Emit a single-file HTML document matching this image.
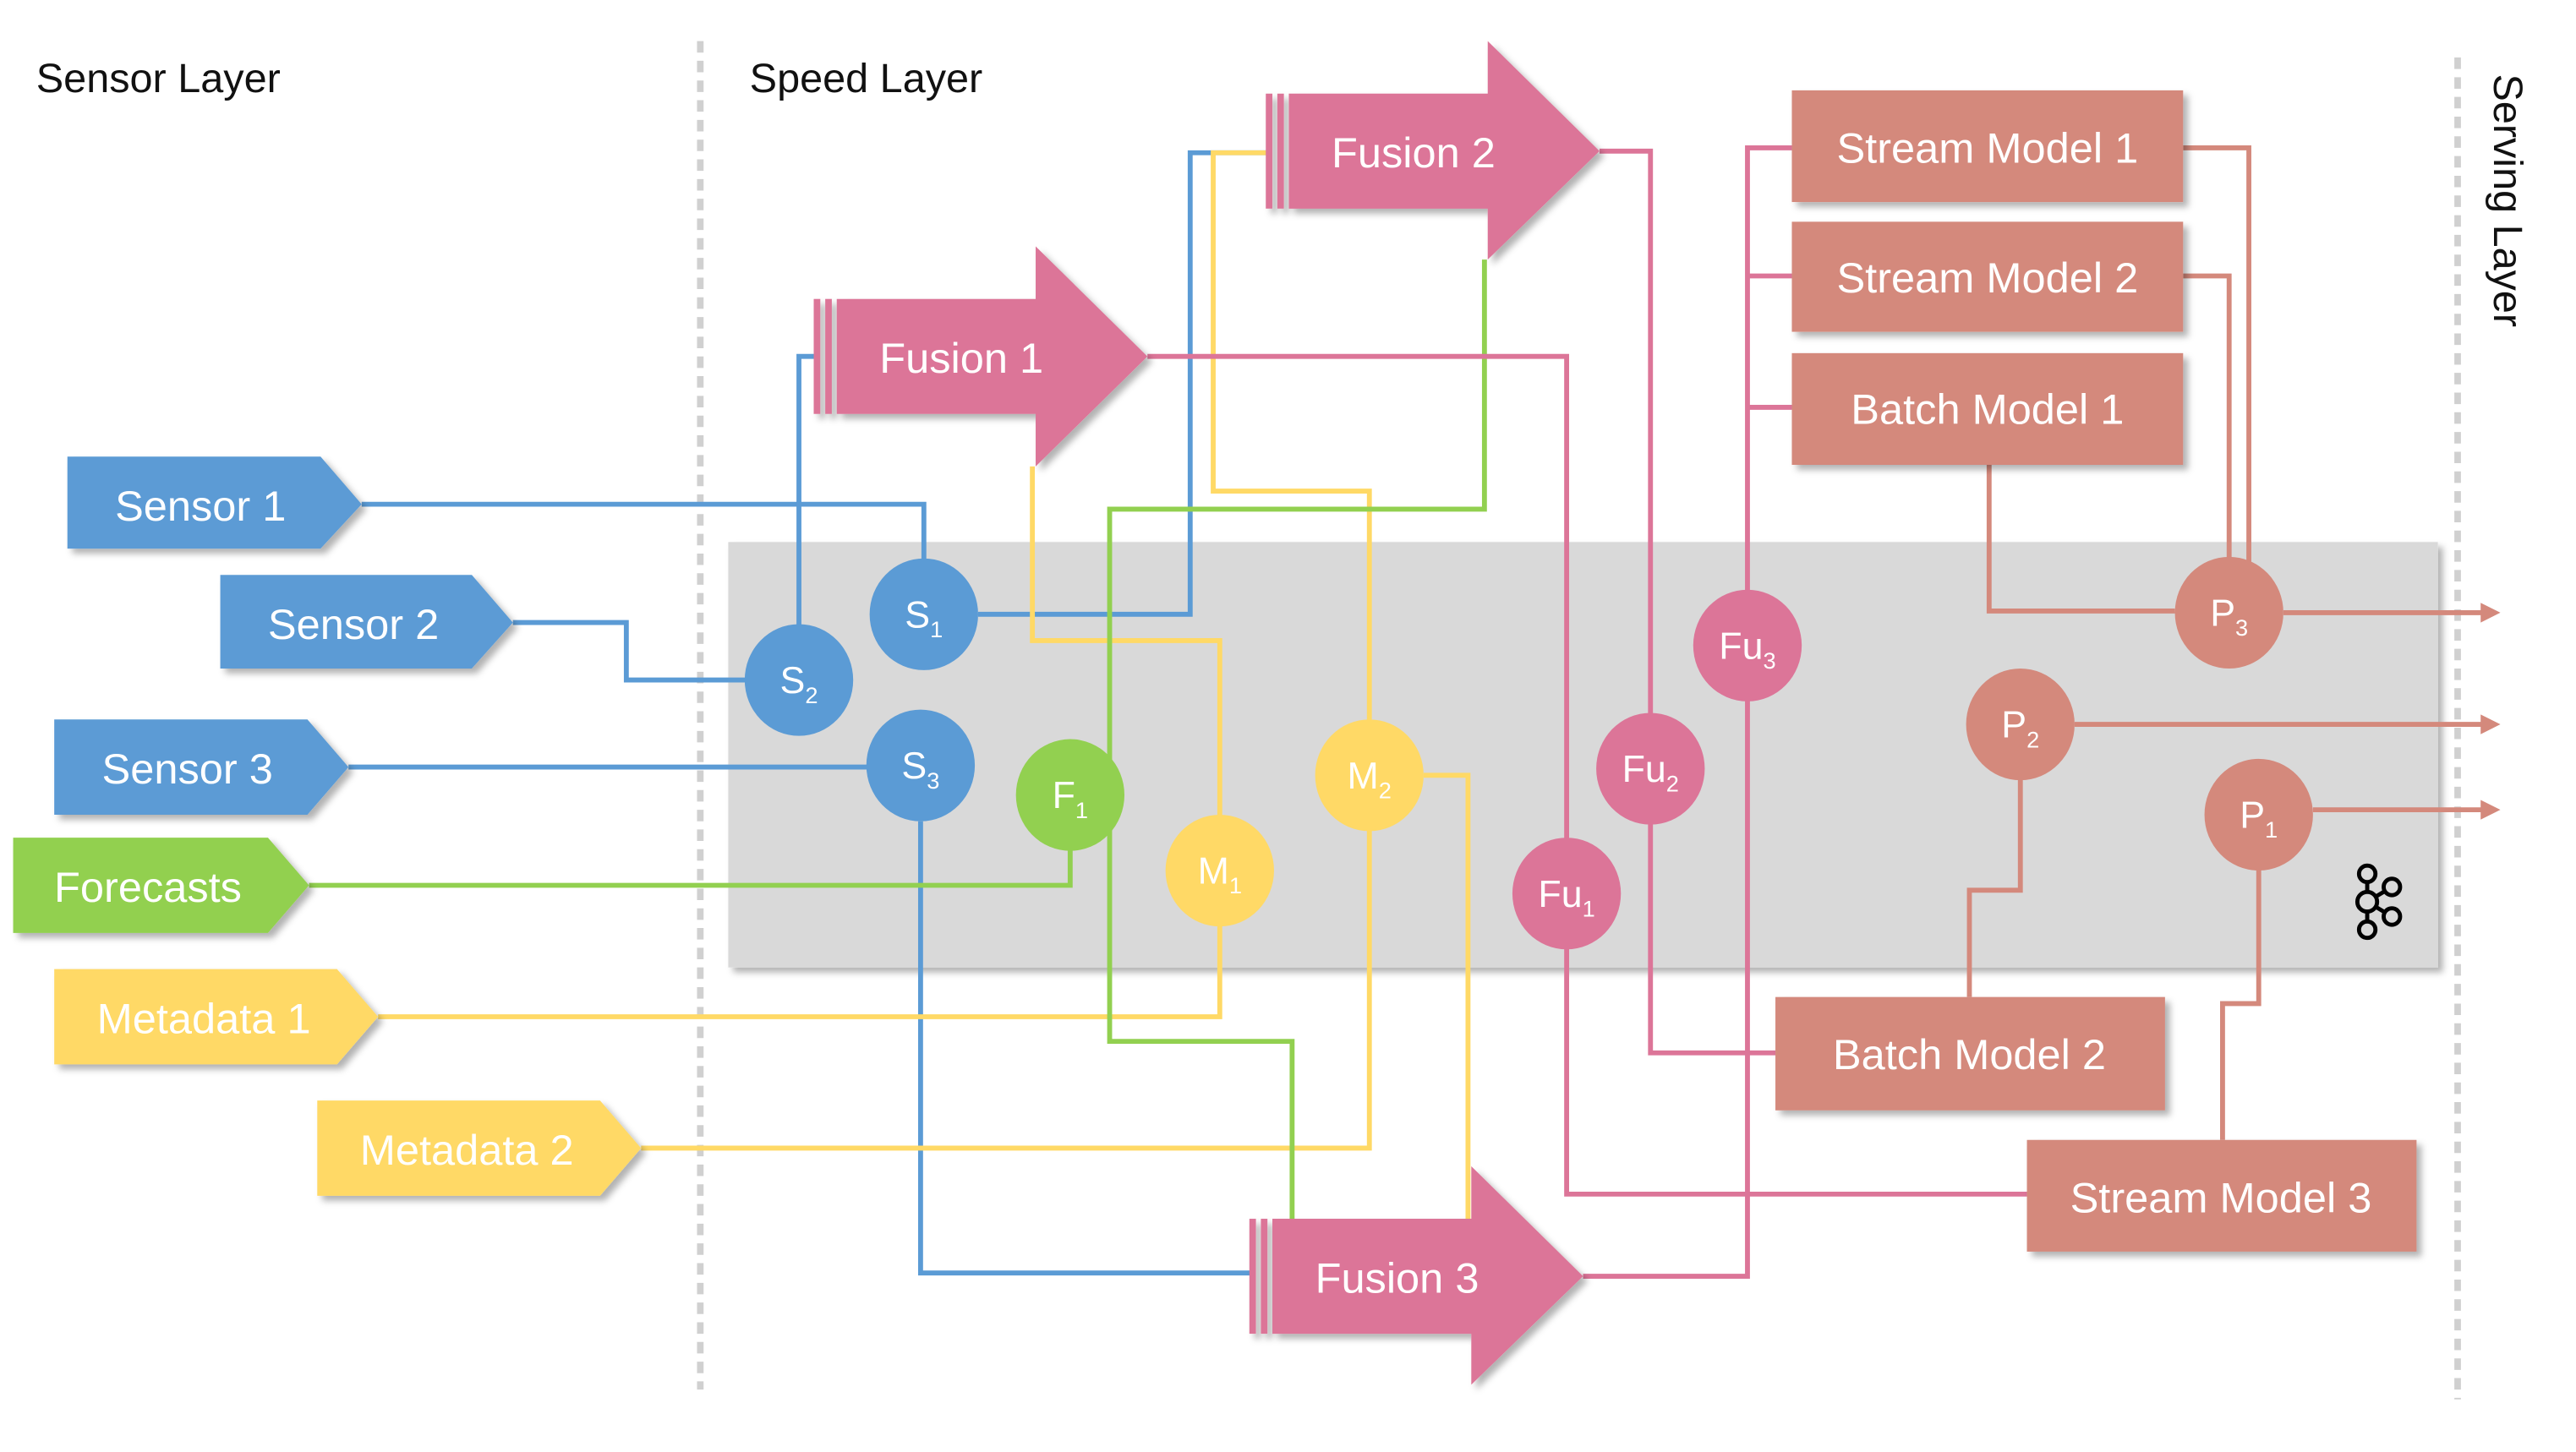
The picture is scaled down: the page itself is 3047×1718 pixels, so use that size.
<!DOCTYPE html>
<html><head><meta charset="utf-8"><style>
html,body{margin:0;padding:0;background:#fff}
svg{display:block}
text{font-family:"Liberation Sans",sans-serif}
</style></head><body>
<svg width="3047" height="1718" viewBox="0 0 1567 884" preserveAspectRatio="none" xmlns="http://www.w3.org/2000/svg">
<defs>
<filter id="sh" x="-10%" y="-10%" width="130%" height="130%"><feDropShadow dx="3" dy="3" stdDeviation="2" flood-color="#000" flood-opacity="0.3"/></filter>
</defs>
<line x1="426" y1="25" x2="426" y2="846" stroke="#d0d0d0" stroke-width="4" stroke-dasharray="7,5"/>
<line x1="1495" y1="35" x2="1495" y2="852" stroke="#d0d0d0" stroke-width="4" stroke-dasharray="7,5"/>
<text x="22" y="56" font-size="25" fill="#111">Sensor Layer</text>
<text x="456" y="56" font-size="25" fill="#111">Speed Layer</text>
<text transform="translate(1517,45) rotate(90)" font-size="25" fill="#111">Serving Layer</text>
<rect x="443" y="330" width="1040" height="259" fill="#d9d9d9" filter="url(#sh)"/>
<g fill="none" stroke-width="3">
<polyline stroke="#5b9bd5" points="220,307 562,307 562,341"/>
<polyline stroke="#5b9bd5" points="312,379 381,379 381,414 455,414"/>
<polyline stroke="#5b9bd5" points="486,381 486,217 497,217"/>
<polyline stroke="#5b9bd5" points="595,374 724,374 724,93 772,93"/>
<polyline stroke="#5b9bd5" points="212,467 528,467"/>
<polyline stroke="#5b9bd5" points="560,500 560,775 762,775"/>
<polyline stroke="#ffd966" points="230,619 742,619 742,563"/>
<polyline stroke="#ffd966" points="742,497 742,390 628,390 628,284"/>
<polyline stroke="#ffd966" points="390,699 833,699 833,505"/>
<polyline stroke="#ffd966" points="833,439 833,299 738,299 738,93 772,93"/>
<polyline stroke="#ffd966" points="866,472 893,472 893,742"/>
<polyline stroke="#92d050" points="188,539 651,539 651,517"/>
<polyline stroke="#92d050" points="675,470 675,310 903,310 903,158"/>
<polyline stroke="#92d050" points="675,500 675,634 786,634 786,742"/>
<polyline stroke="#dc7598" points="698,217 953,217 953,511"/>
<polyline stroke="#dc7598" points="953,577 953,727 1233,727"/>
<polyline stroke="#dc7598" points="973,92 1004,92 1004,435"/>
<polyline stroke="#dc7598" points="1004,501 1004,641 1080,641"/>
<polyline stroke="#dc7598" points="963,777 1063,777 1063,426"/>
<polyline stroke="#dc7598" points="1063,360 1063,90 1090,90"/>
<polyline stroke="#dc7598" points="1063,168 1090,168"/>
<polyline stroke="#dc7598" points="1063,248 1090,248"/>
<g stroke="#d4897c">
<polyline points="1328,90 1368,90 1368,345"/>
<polyline points="1328,168 1356,168 1356,340"/>
<polyline points="1210,283 1210,372 1323,372"/>
<polyline points="1389,373 1512,373"/>
<polyline points="1262,441 1512,441"/>
<polyline points="1407,493 1512,493"/>
<polyline points="1229,474 1229,542 1198,542 1198,607"/>
<polyline points="1374,529 1374,611 1352,611 1352,694"/>
</g>
</g>
<g fill="#d4897c">
<polygon points="1509,367 1521,373 1509,379"/>
<polygon points="1509,435 1521,441 1509,447"/>
<polygon points="1509,487 1521,493 1509,499"/>
</g>
<g filter="url(#sh)">
<polygon fill="#5b9bd5" points="41,278 195,278 220,307 195,334 41,334"/>
<polygon fill="#5b9bd5" points="134,350 287,350 312,379 287,407 134,407"/>
<polygon fill="#5b9bd5" points="33,438 187,438 212,467 187,496 33,496"/>
<polygon fill="#92d050" points="8,510 163,510 188,539 163,568 8,568"/>
<polygon fill="#ffd966" points="33,590 205,590 230,619 205,648 33,648"/>
<polygon fill="#ffd966" points="193,670 365,670 390,699 365,728 193,728"/>
</g>
<g fill="#fff" font-size="26" text-anchor="middle">
<text x="122" y="317">Sensor 1</text>
<text x="215" y="389">Sensor 2</text>
<text x="114" y="477">Sensor 3</text>
<text x="90" y="549">Forecasts</text>
<text x="124" y="629">Metadata 1</text>
<text x="284" y="709">Metadata 2</text>
</g>
<g filter="url(#sh)" fill="#dc7598">
<rect x="495" y="182" width="4" height="70"/><rect x="502" y="182" width="4" height="70"/>
<polygon points="509,182 630,182 630,150 698,217 630,284 630,252 509,252"/>
<rect x="770" y="57" width="4" height="70"/><rect x="777" y="57" width="4" height="70"/>
<polygon points="784,57 905,57 905,25 973,92 905,158 905,127 784,127"/>
<rect x="760" y="742" width="4" height="70"/><rect x="767" y="742" width="4" height="70"/>
<polygon points="774,742 895,742 895,710 963,777 895,843 895,812 774,812"/>
</g>
<g fill="#fff" font-size="26">
<text x="535" y="227">Fusion 1</text>
<text x="810" y="102">Fusion 2</text>
<text x="800" y="787">Fusion 3</text>
</g>
<g filter="url(#sh)" fill="#d4897c">
<rect x="1090" y="55" width="238" height="68"/>
<rect x="1090" y="135" width="238" height="67"/>
<rect x="1090" y="215" width="238" height="68"/>
<rect x="1080" y="607" width="237" height="69"/>
<rect x="1233" y="694" width="237" height="68"/>
</g>
<g fill="#fff" font-size="26" text-anchor="middle">
<text x="1209" y="99">Stream Model 1</text>
<text x="1209" y="178">Stream Model 2</text>
<text x="1209" y="258">Batch Model 1</text>
<text x="1198" y="651">Batch Model 2</text>
<text x="1351" y="738">Stream Model 3</text>
</g>
<g>
<ellipse cx="562" cy="374" rx="33" ry="34" fill="#5b9bd5"/>
<ellipse cx="486" cy="414" rx="33" ry="34" fill="#5b9bd5"/>
<ellipse cx="560" cy="466" rx="33" ry="34" fill="#5b9bd5"/>
<ellipse cx="651" cy="484" rx="33" ry="34" fill="#92d050"/>
<ellipse cx="742" cy="530" rx="33" ry="34" fill="#ffd966"/>
<ellipse cx="833" cy="472" rx="33" ry="34" fill="#ffd966"/>
<ellipse cx="953" cy="544" rx="33" ry="34" fill="#dc7598"/>
<ellipse cx="1004" cy="468" rx="33" ry="34" fill="#dc7598"/>
<ellipse cx="1063" cy="393" rx="33" ry="34" fill="#dc7598"/>
<ellipse cx="1356" cy="373" rx="33" ry="34" fill="#d4897c"/>
<ellipse cx="1229" cy="441" rx="33" ry="34" fill="#d4897c"/>
<ellipse cx="1374" cy="496" rx="33" ry="34" fill="#d4897c"/>
</g>
<g fill="#fff" font-size="23" text-anchor="middle">
<text x="562" y="382">S<tspan font-size="14" dy="6">1</tspan></text>
<text x="486" y="422">S<tspan font-size="14" dy="6">2</tspan></text>
<text x="560" y="474">S<tspan font-size="14" dy="6">3</tspan></text>
<text x="651" y="492">F<tspan font-size="14" dy="6">1</tspan></text>
<text x="742" y="538">M<tspan font-size="14" dy="6">1</tspan></text>
<text x="833" y="480">M<tspan font-size="14" dy="6">2</tspan></text>
<text x="953" y="552">Fu<tspan font-size="14" dy="6">1</tspan></text>
<text x="1004" y="476">Fu<tspan font-size="14" dy="6">2</tspan></text>
<text x="1063" y="401">Fu<tspan font-size="14" dy="6">3</tspan></text>
<text x="1356" y="381">P<tspan font-size="14" dy="6">3</tspan></text>
<text x="1229" y="449">P<tspan font-size="14" dy="6">2</tspan></text>
<text x="1374" y="504">P<tspan font-size="14" dy="6">1</tspan></text>
</g>
<g fill="none" stroke="#000" stroke-width="2.5">
<line x1="1440" y1="532" x2="1440" y2="566"/>
<line x1="1440" y1="549" x2="1455" y2="540"/>
<line x1="1440" y1="549" x2="1455" y2="558"/>
<circle cx="1440" cy="532" r="5" fill="#d9d9d9"/>
<circle cx="1440" cy="549" r="6" fill="#d9d9d9"/>
<circle cx="1440" cy="566" r="5" fill="#d9d9d9"/>
<circle cx="1455" cy="540" r="5" fill="#d9d9d9"/>
<circle cx="1455" cy="558" r="5" fill="#d9d9d9"/>
</g>
</svg>
</body></html>
